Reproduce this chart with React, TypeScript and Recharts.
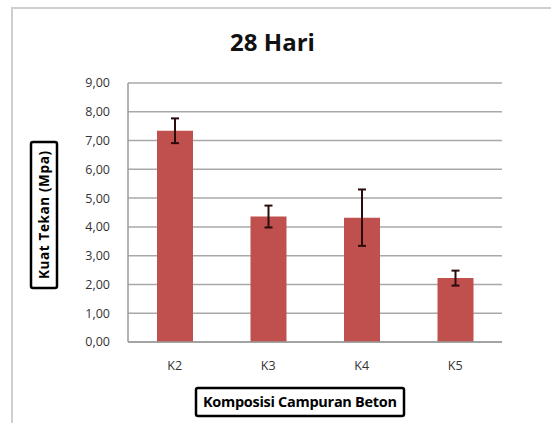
import { Bar, BarChart, CartesianGrid, ErrorBar, XAxis, YAxis } from 'recharts'

const categories = ['K2', 'K3', 'K4', 'K5']
const strength = [7.34, 4.36, 4.32, 2.22]
const spread = [0.43, 0.38, 0.98, 0.26]
const yTicks = [0, 1, 2, 3, 4, 5, 6, 7, 8, 9]

const data = categories.map((name, i) => ({ name, value: strength[i], err: spread[i] }))

const font = '"Open Sans", "DejaVu Sans", sans-serif'

const YLabel = () => (
  <g transform="translate(44,215) rotate(-90)">
    <rect x={-73} y={-13} width={146} height={26} fill="#fff" stroke="#000" strokeWidth={2.5} rx={2} />
    <text x={0} y={4.5} textAnchor="middle" fontFamily={font} fontWeight="bold" fontSize={13.5} fill="#000" textLength={128}>
      Kuat Tekan (Mpa)
    </text>
  </g>
)

const XLabel = () => (
  <g>
    <rect x={196} y={388} width={208} height={28} fill="#fff" stroke="#000" strokeWidth={2.5} rx={2} />
    <text x={300} y={407} textAnchor="middle" fontFamily={font} fontWeight="bold" fontSize={14.5} fill="#000" textLength={194}>
      Komposisi Campuran Beton
    </text>
  </g>
)

const App = () => {
  return (
    <div style={{ position: 'absolute', left: 0, top: 0, width: 551, height: 423, overflow: 'hidden', background: '#fff' }}>
      <div
        style={{
          position: 'absolute',
          left: 11,
          top: 7,
          width: 600,
          height: 500,
          border: '2px solid #cfcfcf',
        }}
      />
      <div
        style={{
          position: 'absolute',
          left: 0,
          width: 545,
          top: 27,
          textAlign: 'center',
          fontFamily: font,
          fontWeight: 'bold',
          fontSize: 24,
          lineHeight: '30px',
          color: '#111',
        }}
      >
        28 Hari
      </div>
      <div style={{ position: 'absolute', left: 0, top: 0 }}>
        <BarChart width={551} height={423} data={data} margin={{ top: 83, right: 49, bottom: 51, left: 0 }}>
          <CartesianGrid vertical={false} stroke="#a8a8a8" strokeWidth={1.5} />
          <XAxis
            dataKey="name"
            height={30}
            tickLine={false}
            axisLine={{ stroke: '#9a9a9a', strokeWidth: 1.5 }}
            tick={{ fill: '#333', fontSize: 12.5, fontFamily: font }}
            tickMargin={13}
            label={{ content: XLabel }}
          />
          <YAxis
            width={128}
            domain={[0, 9]}
            ticks={yTicks}
            interval={0}
            tickFormatter={(v: number) => v.toFixed(2).replace('.', ',')}
            tickLine={false}
            axisLine={{ stroke: '#9a9a9a', strokeWidth: 1.5 }}
            tick={{ fill: '#333', fontSize: 12.5, fontFamily: font }}
            tickMargin={12}
            label={{ content: YLabel }}
          />
          <Bar dataKey="value" fill="#c0504d" barSize={36} isAnimationActive={false}>
            <ErrorBar dataKey="err" width={4} stroke="#2a0c0c" strokeWidth={2} direction="y" />
          </Bar>
        </BarChart>
      </div>
    </div>
  )
}

export default App
